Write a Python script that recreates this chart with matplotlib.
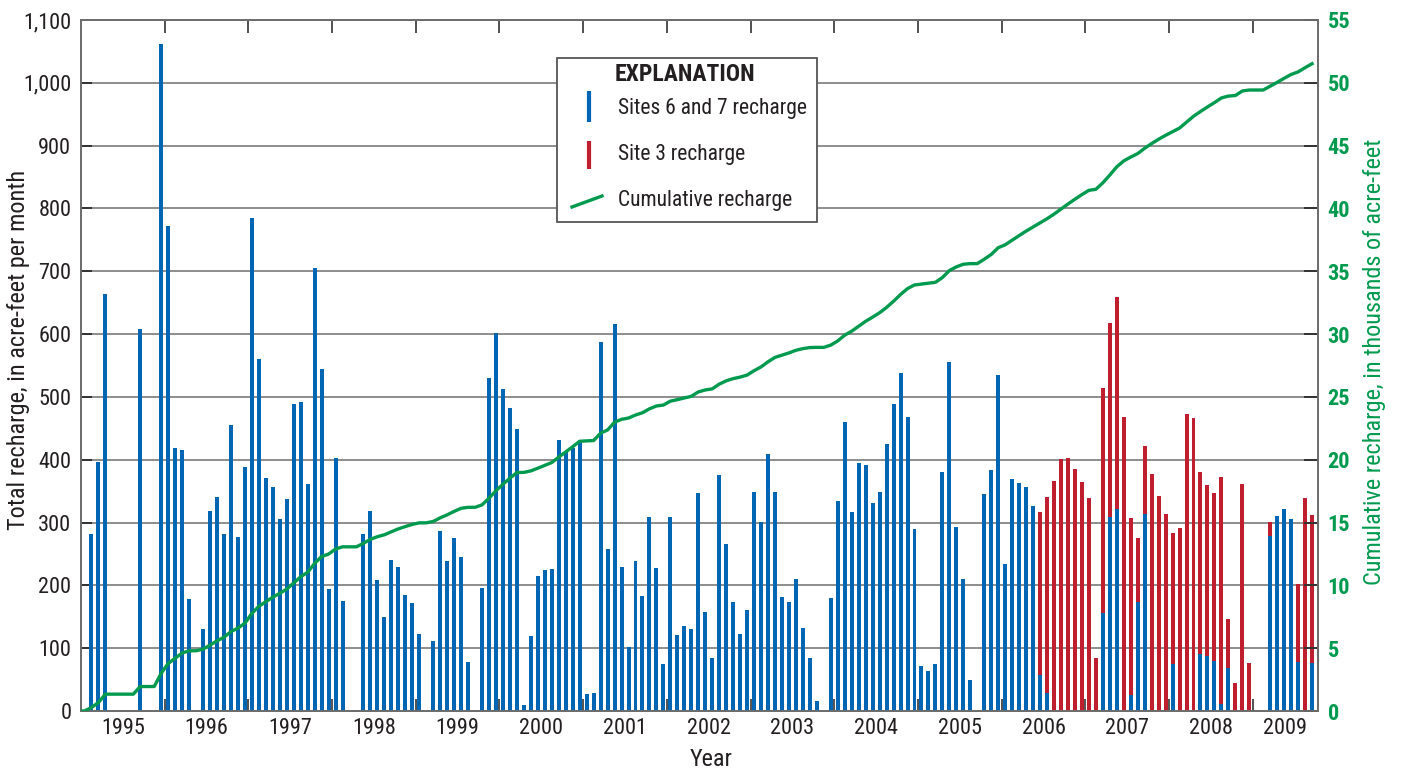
import matplotlib
matplotlib.use('Agg')
import matplotlib.pyplot as plt
import numpy as np
from matplotlib import font_manager
from matplotlib.patches import Rectangle
from matplotlib.lines import Line2D

names = {f.name for f in font_manager.fontManager.ttflist}
fam = 'DejaVu Sans'
for cand in ['Liberation Sans Narrow', 'Roboto Condensed', 'Open Sans Condensed',
             'Arial Narrow', 'Roboto']:
    if cand in names:
        fam = cand
        break
plt.rcParams['font.family'] = [fam, 'DejaVu Sans']

# ---- data (monthly, starting January 1995) ----
years = [str(y) for y in range(1995, 2010)]

sites67 = [
    0, 281, 396, 664, 0, 0, 0, 0, 608, 0, 0, 1061,            # 1995
    772, 419, 415, 178, 0, 131, 319, 341, 282, 455, 277, 388,  # 1996
    785, 560, 371, 357, 306, 338, 489, 492, 361, 706, 544, 194,  # 1997
    403, 175, 0, 0, 282, 318, 208, 150, 241, 229, 185, 172,    # 1998
    123, 0, 112, 287, 238, 276, 245, 78, 0, 196, 530, 601,     # 1999
    512, 482, 449, 10, 120, 215, 225, 226, 431, 412, 419, 431,  # 2000
    27, 29, 587, 258, 616, 229, 102, 239, 183, 309, 228, 75,   # 2001
    309, 121, 135, 131, 347, 158, 84, 376, 266, 174, 123, 161,  # 2002
    349, 301, 409, 349, 182, 174, 210, 132, 84, 16, 0, 180,    # 2003
    334, 460, 316, 395, 392, 331, 349, 425, 489, 538, 468, 290,  # 2004
    72, 64, 75, 380, 555, 293, 210, 49, 0, 346, 384, 535,      # 2005
    234, 369, 363, 357, 327, 57, 28, 0, 0, 0, 0, 0,            # 2006
    0, 0, 156, 309, 322, 0, 26, 174, 314, 0, 0, 0,             # 2007
    75, 0, 0, 0, 91, 88, 80, 11, 69, 0, 0, 0,                  # 2008
    0, 0, 279, 311, 322, 306, 78, 0, 77,                       # 2009
]

site3 = [
    0, 0, 0, 0, 0, 0, 0, 0, 0, 0, 0, 0,
    0, 0, 0, 0, 0, 0, 0, 0, 0, 0, 0, 0,
    0, 0, 0, 0, 0, 0, 0, 0, 0, 0, 0, 0,
    0, 0, 0, 0, 0, 0, 0, 0, 0, 0, 0, 0,
    0, 0, 0, 0, 0, 0, 0, 0, 0, 0, 0, 0,
    0, 0, 0, 0, 0, 0, 0, 0, 0, 0, 0, 0,
    0, 0, 0, 0, 0, 0, 0, 0, 0, 0, 0, 0,
    0, 0, 0, 0, 0, 0, 0, 0, 0, 0, 0, 0,
    0, 0, 0, 0, 0, 0, 0, 0, 0, 0, 0, 0,
    0, 0, 0, 0, 0, 0, 0, 0, 0, 0, 0, 0,
    0, 0, 0, 0, 0, 0, 0, 0, 0, 0, 0, 0,
    0, 0, 0, 0, 0, 260, 313, 366, 401, 403, 385, 365,          # 2006
    339, 84, 358, 308, 337, 468, 282, 102, 108, 377, 342, 314,  # 2007
    209, 292, 473, 466, 289, 272, 267, 362, 78, 45, 361, 77,    # 2008
    0, 0, 22, 0, 0, 0, 124, 339, 235,                          # 2009
]

blue = '#0066b3'
red = '#be1e2d'
green = '#009a4e'
dark = '#231f20'

s67 = np.array(sites67, dtype=float)
s3 = np.array(site3, dtype=float)
n = len(s67)
x = np.arange(n) + 0.5
cum = np.cumsum(s67 + s3) / 1000.0

W, H = 1401, 777
fig = plt.figure(figsize=(W / 100, H / 100), dpi=100)
L, R, T, B = 81, 1318, 20, 711
ax = fig.add_axes([L / W, 1 - B / H, (R - L) / W, (B - T) / H])

ax.bar(x, s67, width=0.57, color=blue, zorder=3, linewidth=0)
ax.bar(x, s3, bottom=s67, width=0.57, color=red, zorder=3, linewidth=0)

FS = 16
ax.set_xlim(0, 177.35)
ax.set_ylim(0, 1100)
ax.set_yticks(np.arange(0, 1101, 100))
ax.set_yticklabels([f'{v:,}' for v in range(0, 1101, 100)], fontsize=FS, color=dark)
ax.yaxis.grid(True, color='#7a7a7a', linewidth=1.2, zorder=0)
ax.set_axisbelow(True)

ax.set_xticks(np.arange(12, 169, 12))
ax.set_xticklabels([])
label_pos = list(np.arange(6, 163, 12)) + [172.67]
ax.set_xticks(label_pos, minor=True)
ax.set_xticklabels(years, minor=True, fontsize=FS, color=dark)
ax.tick_params(axis='x', which='major', direction='in', length=9, width=1.2,
               color='#333333', top=True, bottom=True)
ax.tick_params(axis='x', which='minor', length=0, pad=5)
ax.tick_params(axis='y', direction='in', length=8, width=1.4, color='#333333',
               pad=7, right=False)

for sp in ax.spines.values():
    sp.set_color('#6d6d6d')
    sp.set_linewidth(1.3)

ax2 = ax.twinx()
ax2.set_ylim(0, 55)
ax2.plot(np.concatenate([[0], x]), np.concatenate([[0], cum]), color=green,
         linewidth=2.4, zorder=4, solid_joinstyle='round')
ax2.set_yticks(np.arange(0, 56, 5))
ax2.set_yticklabels([str(v) for v in range(0, 56, 5)], fontsize=FS, color=green,
                    fontweight='bold')
ax2.tick_params(axis='y', direction='in', length=10, width=1.4, color='#333333', pad=7)
for sp in ax2.spines.values():
    sp.set_color('#6d6d6d')
    sp.set_linewidth(1.3)

fig.text(19 / W, 1 - 350 / H, 'Total recharge, in acre-feet per month', fontsize=17.5,
         color=dark, rotation=90, ha='center', va='center')
fig.text(1374 / W, 1 - 362 / H, 'Cumulative recharge, in thousands of acre-feet',
         fontsize=17.5, color=green, rotation=90, ha='center', va='center')
fig.text(711 / W, 1 - 760 / H, 'Year', fontsize=17.5, color=dark, ha='center',
         va='center')


def fx(px):
    return (px - L) / (R - L)


def fy(py):
    return (B - py) / (B - T)


tr = ax2.transAxes
ax2.add_patch(Rectangle((fx(557), fy(222)), fx(817) - fx(557), fy(58) - fy(222),
                        transform=tr, facecolor='white', edgecolor='#555555',
                        linewidth=1.3, zorder=10))
ax2.text(fx(685), fy(75), 'EXPLANATION', transform=tr, fontsize=17, fontweight='bold',
         ha='center', va='center', color=dark, zorder=11)
ax2.add_line(Line2D([fx(589), fx(589)], [fy(122), fy(91)], transform=tr, color=blue,
                    linewidth=3, solid_capstyle='butt', zorder=11))
ax2.add_line(Line2D([fx(589), fx(589)], [fy(169), fy(141)], transform=tr, color=red,
                    linewidth=3, solid_capstyle='butt', zorder=11))
ax2.add_line(Line2D([fx(572), fx(602)], [fy(207), fy(196)], transform=tr, color=green,
                    linewidth=2.4, zorder=11))
for py, txt in [(109, 'Sites 6 and 7 recharge'), (155, 'Site 3 recharge'),
                (201, 'Cumulative recharge')]:
    ax2.text(fx(618), fy(py), txt, transform=tr, fontsize=15.5, ha='left',
             va='center', color=dark, zorder=11)

fig.savefig('out.png', dpi=100)
